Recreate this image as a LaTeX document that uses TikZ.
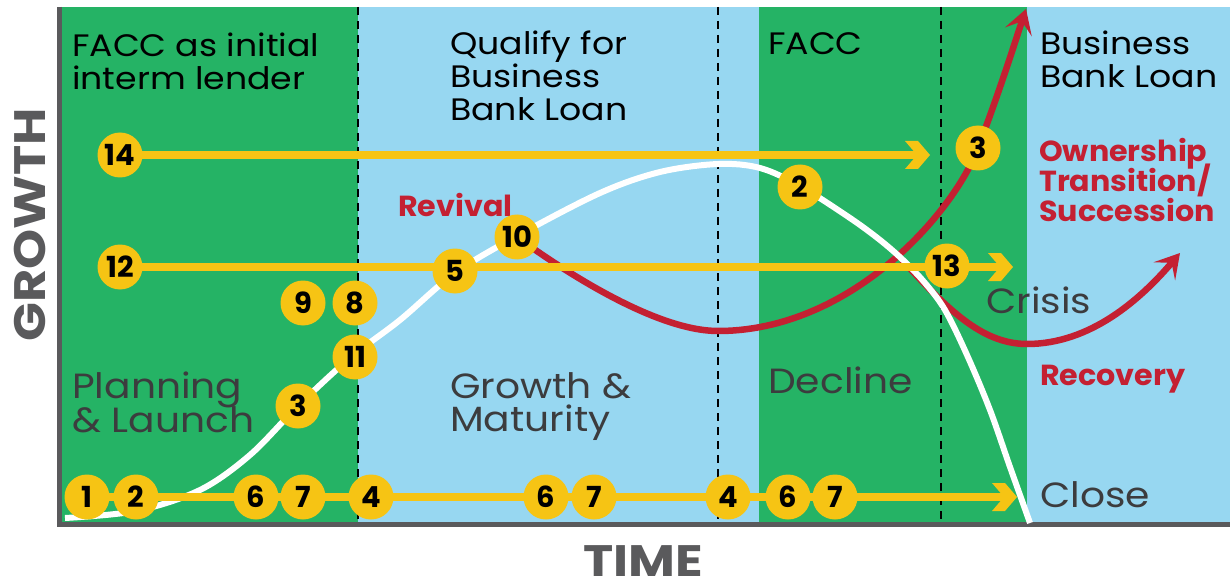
\documentclass[tikz,border=0pt]{standalone}
\usepackage{fontspec}
\setmainfont{Poppins}
\newfontfamily\widesans{Poppins}[FakeStretch=1.12]
\newfontfamily\redsans{Poppins}[FakeStretch=1.04]
\newfontfamily\axissans{Poppins}[FakeStretch=1.16]
\usetikzlibrary{arrows.meta}

\definecolor{phgreen}{RGB}{37,179,101}
\definecolor{phblue}{RGB}{151,215,241}
\definecolor{mkyellow}{RGB}{246,196,20}
\definecolor{pathred}{RGB}{196,32,50}
\definecolor{axisgray}{RGB}{90,90,92}
\definecolor{phasetext}{RGB}{60,60,62}

\pgfdeclarelayer{bg}
\pgfdeclarelayer{curves}
\pgfdeclarelayer{ylines}
\pgfsetlayers{bg,curves,ylines,main}

\begin{document}
\begin{tikzpicture}[x=1pt,y=-1pt,
  num/.style={circle, fill=mkyellow, minimum size=45pt, inner sep=0pt,
    font=\fontsize{29}{29}\selectfont\bfseries, text=black},
  toplbl/.style={anchor=base west, inner sep=0pt, text=black,
    font=\widesans\fontsize{31}{33}\selectfont},
  phaselbl/.style={anchor=base west, inner sep=0pt, text=phasetext,
    font=\widesans\fontsize{35}{35}\selectfont},
  redlbl/.style={anchor=base west, inner sep=0pt, text=pathred,
    font=\redsans\fontsize{29}{29}\selectfont\bfseries},
  axislbl/.style={inner sep=0pt, text=axisgray,
    font=\axissans\fontsize{44}{44}\selectfont\bfseries},
  yline/.style={draw=mkyellow, line width=8pt},
  redpath/.style={draw=pathred, line width=6.5pt,
    -{Stealth[length=24pt,width=28pt,inset=11pt]}},
  growth/.style={draw=white, line width=6pt},
  phase/.style={draw=black, line width=2.4pt, dash pattern=on 8pt off 6pt},
  chev/.pic={\fill[mkyellow] (0,0) -- (-12,-14) -- (-25,-14) -- (-13,0)
    -- (-25,14) -- (-12,14) -- cycle;}
]
\useasboundingbox (0,0) rectangle (1230,585);

% ---------- phase bands, dividers and axes ----------
\begin{pgfonlayer}{bg}
  \fill[phgreen] (59,7) rectangle (358,523);
  \fill[phblue]  (358,7) rectangle (759,523);
  \fill[phgreen] (759,7) rectangle (1027,523);
  \fill[phblue]  (1027,7) rectangle (1230,523);
  \draw[phase] (358,7) -- (358,523);
  \draw[phase] (718,7) -- (718,523);
  \draw[phase] (941,7) -- (941,523);
  \draw[axisgray, line width=5pt] (59.5,7) -- (59.5,524.5) -- (1230,524.5);
\end{pgfonlayer}

% ---------- axis titles ----------
\node[axislbl, rotate=90] (ylab) at (30,225) {GROWTH};
\node[axislbl, anchor=base] (xlab) at (643,576) {TIME};

% ---------- band headings ----------
\node[toplbl] (h1a) at (72,57) {FACC as initial};
\node[toplbl] (h1b) at (72,90) {interm lender};
\node[toplbl] (h2a) at (450,55) {Qualify for};
\node[toplbl] (h2b) at (450,88) {Business};
\node[toplbl] (h2c) at (450,121) {Bank Loan};
\node[toplbl] (h3a) at (768,55) {FACC};
\node[toplbl] (h4a) at (1040,55) {Business};
\node[toplbl] (h4b) at (1040,88) {Bank Loan};

% ---------- stage names ----------
\node[phaselbl] (p1a) at (72,398) {Planning};
\node[phaselbl] (p1b) at (72,432) {\& Launch};
\node[phaselbl] (p2a) at (450,398) {Growth \&};
\node[phaselbl] (p2b) at (450,431) {Maturity};
\node[phaselbl] (p3a) at (768,393) {Decline};
\node[phaselbl] (p4a) at (986,313) {Crisis};
\node[phaselbl] (p5a) at (1040,507) {Close};

% ---------- outcome labels ----------
\node[redlbl] (r1) at (398,217) {Revival};
\node[redlbl] (r2a) at (1039,162) {Ownership};
\node[redlbl] (r2b) at (1039,192) {Transition/};
\node[redlbl] (r2c) at (1039,222) {Succession};
\node[redlbl] (r3) at (1040,385) {Recovery};

% ---------- numbered markers ----------
\node[num] (n14) at (120,155) {14};
\node[num] (n12) at (120,267) {12};
\node[num] (n9)  at (303,303) {9};
\node[num] (n8)  at (355,303) {8};
\node[num] (n11) at (355,357) {11};
\node[num] (n3a) at (298,406) {3};
\node[num] (n5)  at (455,271) {5};
\node[num] (n10) at (517,237) {10};
\node[num] (n2b) at (800,187) {2};
\node[num] (n3b) at (978,148) {3};
\node[num] (n13) at (947,266) {13};
\node[num] (n1)  at (87,497) {1};
\node[num] (n2a) at (136,497) {2};
\node[num] (n6a) at (256,497) {6};
\node[num] (n7a) at (303,497) {7};
\node[num] (n4a) at (371,497) {4};
\node[num] (n6b) at (546,497) {6};
\node[num] (n7b) at (594,497) {7};
\node[num] (n4b) at (728,497) {4};
\node[num] (n6c) at (788,497) {6};
\node[num] (n7c) at (835,497) {7};

% arrow ends
\coordinate (e14) at (930,155);
\coordinate (e12) at (1013,267);
\coordinate (ebot) at (1017,497);
\coordinate (tipA) at (1026,9);
\coordinate (forkB) at (902,260);
\coordinate (tipB) at (1180,253);

% ---------- yellow timelines ----------
\begin{pgfonlayer}{ylines}
  \draw[yline] (n14.center) -- ([xshift=-10pt]e14);
  \pic at (e14) {chev};
  \draw[yline] (n12.center) -- ([xshift=-10pt]e12);
  \pic at (e12) {chev};
  \draw[yline] (n1.center) -- ([xshift=-10pt]ebot);
  \pic at (ebot) {chev};
\end{pgfonlayer}

% ---------- life-cycle curves ----------
\begin{pgfonlayer}{curves}
  % revival / succession path
  \draw[redpath] (n10.center) .. controls (575,279) and (660,331) .. (718,331)
    .. controls (850,331) and (953,214) .. (n3b.center)
    .. controls (1000,90) and (1015,42) .. (tipA);
  % crisis / recovery path
  \draw[redpath] (forkB) .. controls (945,306) and (980,344) .. (1027,344)
    .. controls (1090,344) and (1140,300) .. (tipB);
  % business growth curve
  \draw[growth] plot[smooth, tension=0.55] coordinates {
    (65,518) (136,511) (200,490) (250,455) (298,406) (350,358) (400,320)
    (455,273) (517,236) (600,193) (660,172) (718,164) (760,168) (800,186)
    (850,218) (880,240) (903,260) (925,283) (945,310) (967,355) (990,410)
    (1010,467) (1030,523)};
\end{pgfonlayer}
\end{tikzpicture}
\end{document}
